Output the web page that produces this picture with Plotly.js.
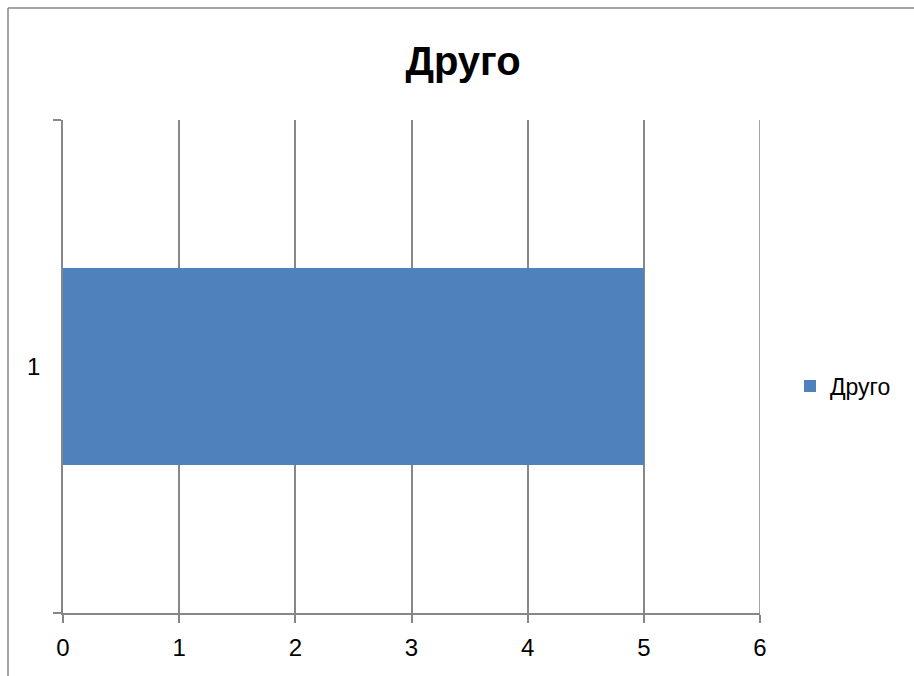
<!DOCTYPE html>
<html>
<head>
<meta charset="utf-8">
<script src="https://cdn.plot.ly/plotly-3.0.1.min.js"></script>
<style>
  html, body { margin: 0; padding: 0; background: #ffffff; }
  #chart { width: 914px; height: 676px; }
</style>
</head>
<body>
<div id="chart"></div>
<script>
// ---- data ----
const categories = ['1'];
const seriesName = 'Друго';
const values = [5];
const chartTitle = 'Друго';
const xTickVals = [0, 1, 2, 3, 4, 5, 6];

// ---- layout geometry (pixels) ----
const W = 914, H = 676;
const plotL = 63, plotR = 760, plotT = 120, plotB = 613;
const pw = plotR - plotL, ph = plotB - plotT;
const px = v => (v - plotL) / pw;          // page x -> paper x
const py = v => (plotB - v) / ph;          // page y -> paper y
const gray = '#878787';
const font = 'Liberation Sans, Arial, sans-serif';
const xMax = xTickVals[xTickVals.length - 1];

const trace = {
  type: 'bar',
  orientation: 'h',
  name: seriesName,
  x: values,
  y: categories,
  width: 0.4,
  marker: { color: '#4F81BD', line: { width: 0 } },
  showlegend: true,
  hoverinfo: 'x+y'
};

const layout = {
  width: W,
  height: H,
  margin: { l: plotL, r: W - plotR, t: plotT, b: H - plotB, pad: 0 },
  paper_bgcolor: '#ffffff',
  plot_bgcolor: '#ffffff',
  font: { family: font, size: 24, color: '#000000' },
  title: {
    text: '<b>' + chartTitle + '</b>',
    font: { family: font, size: 40, color: '#000000' },
    x: 463 / W,
    xanchor: 'center',
    xref: 'container',
    y: 1 - 61 / H,
    yref: 'container',
    yanchor: 'middle'
  },
  xaxis: {
    range: [0, xMax],
    tickvals: xTickVals,
    ticktext: xTickVals.map(String),
    showgrid: true,
    gridcolor: gray,
    gridwidth: 1.5,
    zeroline: false,
    showline: true,
    linecolor: gray,
    linewidth: 1.5,
    ticks: 'outside',
    ticklen: 8,
    tickwidth: 1.5,
    tickcolor: gray,
    tickfont: { family: font, size: 24, color: '#000000' },
    ticklabelstandoff: 4,
    fixedrange: true
  },
  yaxis: {
    type: 'category',
    categoryorder: 'array',
    categoryarray: categories,
    range: [-0.5, 0.5],
    tickson: 'boundaries',
    showgrid: false,
    zeroline: false,
    showline: true,
    linecolor: gray,
    linewidth: 1.5,
    ticks: 'outside',
    ticklen: 8,
    tickwidth: 1.5,
    tickcolor: gray,
    tickfont: { family: font, size: 24, color: '#000000' },
    ticklabelstandoff: 16,
    fixedrange: true
  },
  showlegend: true,
  legend: {
    x: px(790),
    xanchor: 'left',
    y: py(386),
    yanchor: 'middle',
    font: { family: font, size: 23, color: '#000000' },
    bgcolor: 'rgba(0,0,0,0)',
    borderwidth: 0
  },
  bargap: 0.6,
  shapes: [
    // gridline at the right edge of the value axis (Plotly omits edge gridlines)
    { type: 'line', xref: 'x', yref: 'paper', layer: 'below',
      x0: xMax, x1: xMax, y0: 0, y1: 1,
      line: { color: gray, width: 1.5 } },
    // chart area border (left and top edges visible in the crop)
    { type: 'line', xref: 'paper', yref: 'paper',
      x0: px(8), x1: px(8), y0: py(8), y1: py(H + 10),
      line: { color: gray, width: 1.5 } },
    { type: 'line', xref: 'paper', yref: 'paper',
      x0: px(8), x1: px(W + 10), y0: py(8), y1: py(8),
      line: { color: gray, width: 1.5 } }
  ]
};

Plotly.newPlot('chart', [trace], layout, { displayModeBar: false });
</script>
</body>
</html>
